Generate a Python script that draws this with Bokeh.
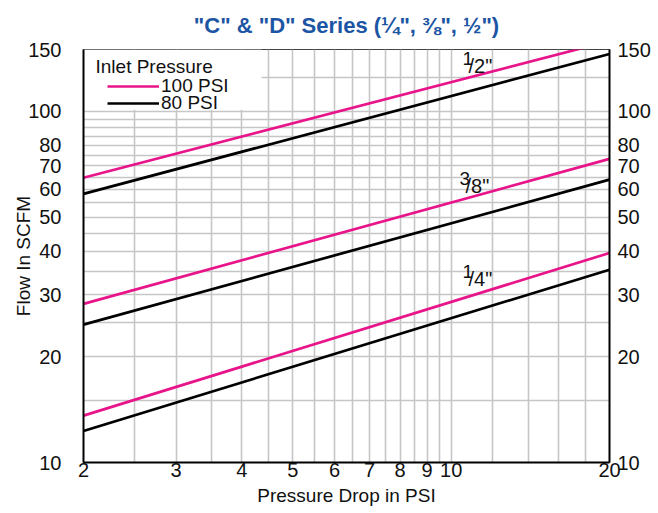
from bokeh.plotting import figure
from bokeh.models import (LogAxis, FixedTicker, Label, Legend, LegendItem,
                          BoxAnnotation, PrintfTickFormatter)
from bokeh.embed import file_html
from bokeh.resources import INLINE

FONT = "Liberation Sans, Arial, sans-serif"
TITLE_FONT = "Liberation Sans, Arial, sans-serif"
PINK = "#e8148a"
BLUE = "#1b55a3"
GRID = "#c6c6c6"
TXT = "#111111"

# ---- data ----
pressure_drop = [2, 20]
half_100 = [64.7, 158.6]
half_80 = [58.2, 145.7]
three8_100 = [28.3, 73.2]
three8_80 = [24.7, 63.9]
quarter_100 = [13.6, 39.5]
quarter_80 = [12.3, 35.4]

x_ticks = [2, 3, 4, 5, 6, 7, 8, 9, 10, 20]
y_ticks = [10, 20, 30, 40, 50, 60, 70, 80, 100, 150]
x_grid = [2.5, 3, 3.5, 4, 4.5, 5, 5.5, 6, 6.5, 7, 7.5, 8, 8.5, 9, 9.5, 10,
          12, 14, 16, 18]
y_grid = [15, 20, 25, 30, 35, 40, 45, 50, 55, 60, 65, 70, 75, 80, 85, 90,
          95, 100, 125]

p = figure(width=656, height=511, x_axis_type="log", y_axis_type="log",
           x_range=(2, 20), y_range=(10, 150),
           output_backend="svg", toolbar_location=None,
           min_border_left=83, min_border_right=47,
           min_border_top=49, min_border_bottom=49)

p.title.text = '"C" & "D" Series (\u00bc", \u215c", \u00bd")'
p.title.text_font = TITLE_FONT
p.title.text_font_size = "22px"
p.title.text_font_style = "bold"
p.title.text_color = BLUE
p.title.align = "center"
p.title.vertical_align = "top"
p.title.standoff = 19

p.outline_line_color = "#444444"
p.outline_line_width = 1

# grids
p.xgrid.ticker = FixedTicker(ticks=x_grid)
p.ygrid.ticker = FixedTicker(ticks=y_grid)
for g in (p.xgrid, p.ygrid):
    g.grid_line_color = GRID
    g.grid_line_width = 1.6

# white area behind the legend
p.add_layout(BoxAnnotation(left=2, right=4.36, bottom=101, top=150,
                           fill_color="white", fill_alpha=1.0,
                           line_alpha=0, level="underlay"))


def style_axis(ax, ticks, standoff, size="20px"):
    ax.ticker = FixedTicker(ticks=ticks)
    ax.formatter = PrintfTickFormatter(format="%d")
    ax.major_tick_out = 0
    ax.major_tick_in = 0
    ax.minor_tick_out = 0
    ax.minor_tick_in = 0
    ax.axis_line_width = 2
    ax.axis_line_color = "black"
    ax.major_label_text_font = FONT
    ax.major_label_text_font_size = size
    ax.major_label_text_color = TXT
    ax.major_label_standoff = standoff
    ax.axis_label_text_font = FONT
    ax.axis_label_text_font_size = "19px"
    ax.axis_label_text_font_style = "normal"
    ax.axis_label_text_color = TXT


xa = p.xaxis[0]
style_axis(xa, x_ticks, 0)
xa.axis_label = "Pressure Drop in PSI"
xa.axis_label_standoff = 5

ya = p.yaxis[0]
style_axis(ya, y_ticks, 22)
ya.axis_label = "Flow In SCFM"
ya.axis_label_standoff = -9

yr = LogAxis()
style_axis(yr, y_ticks, 8)
p.add_layout(yr, "right")

# lines
r100 = None
r80 = None
for ys, col in ((half_100, PINK), (half_80, "black"),
                (three8_100, PINK), (three8_80, "black"),
                (quarter_100, PINK), (quarter_80, "black")):
    r = p.line(pressure_drop, ys, line_color=col, line_width=2.7)
    if col == PINK and r100 is None:
        r100 = r
    if col == "black" and r80 is None:
        r80 = r

# legend (two single-item legends for precise row spacing)
for item_label, rend, yloc in (("100 PSI", r100, 363), ("80 PSI", r80, 346)):
    lg = Legend(items=[LegendItem(label=item_label, renderers=[rend])],
                location=(24, yloc), orientation="vertical",
                glyph_width=52, glyph_height=26, label_height=26,
                label_standoff=2, padding=0, margin=0, spacing=0,
                background_fill_alpha=0, border_line_alpha=0,
                label_text_font=FONT, label_text_font_size="19px",
                label_text_color=TXT)
    p.add_layout(lg)

p.add_layout(Label(x=2, y=150, x_offset=12, y_offset=-17, text="Inlet Pressure",
                   text_font=FONT, text_font_size="19px",
                   text_color=TXT, text_baseline="alphabetic"))

# size annotations drawn as stacked fractions
for num, den, fx, fy in (("1", "2", 10.51, 128.9), ("3", "8", 10.37, 58.7),
                         ("1", "4", 10.51, 31.9)):
    p.add_layout(Label(x=fx, y=fy, y_offset=14, text=num, text_font=FONT,
                       text_font_size="19px", text_color=TXT,
                       text_baseline="alphabetic"))
    p.add_layout(Label(x=fx, y=fy, x_offset=6, y_offset=7, text="/" + den + '"',
                       text_font=FONT, text_font_size="20px",
                       text_color=TXT, text_baseline="alphabetic"))

open("out.html", "w").write(file_html(p, INLINE))
